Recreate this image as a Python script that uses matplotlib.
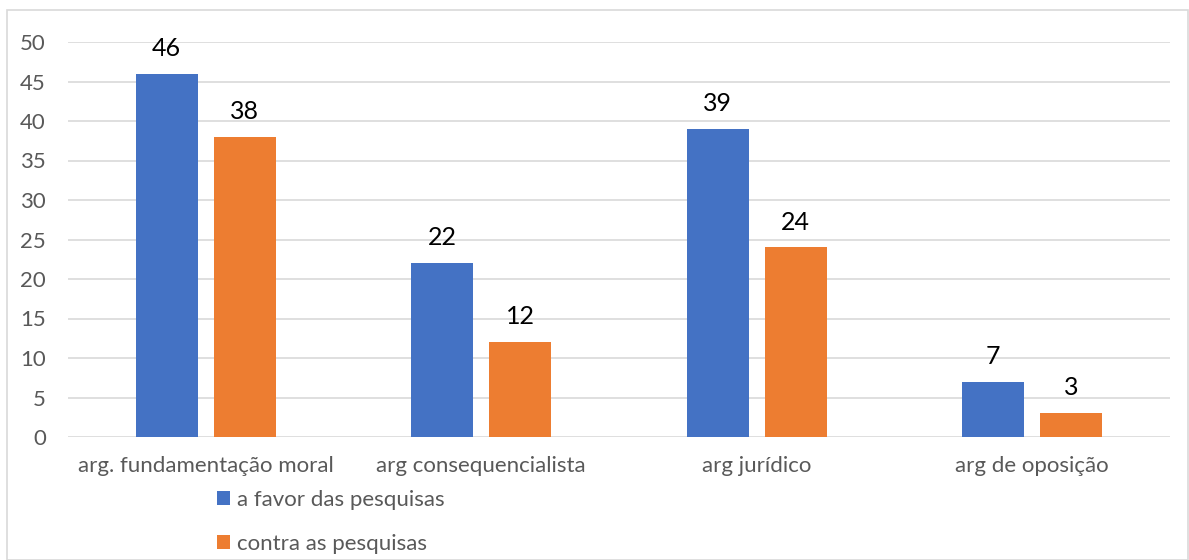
import numpy as np
import matplotlib.pyplot as plt
from matplotlib.patches import Rectangle

plt.rcParams['font.family'] = ['Lato', 'DejaVu Sans']

# dados do gráfico
categorias = ['arg. fundamentação moral', 'arg consequencialista', 'arg jurídico', 'arg de oposição']
a_favor = [46, 22, 39, 7]
contra = [38, 12, 24, 3]
series = ['a favor das pesquisas', 'contra as pesquisas']
cores = ['#4472C4', '#ED7D31']

fig = plt.figure(figsize=(11.89, 5.6), dpi=100)
ax = fig.add_axes([68 / 1189, 1 - 437 / 560, (1170 - 68) / 1189, (437 - 42) / 560])

# moldura cinza em volta do gráfico
fig.patches.append(Rectangle((7 / 1189, 0), 1 - 7 / 1189 - 0.001, 1 - 10 / 560,
                             transform=fig.transFigure, fill=False,
                             edgecolor='#D9D9D9', linewidth=1.2))

x = np.arange(len(categorias))
largura = 0.225
desloc = 0.1415
b1 = ax.bar(x - desloc, a_favor, largura, color=cores[0], label=series[0], zorder=3)
b2 = ax.bar(x + desloc, contra, largura, color=cores[1], label=series[1], zorder=3)

for barras in (b1, b2):
    ax.bar_label(barras, padding=10, fontsize=18, color='black')

ax.set_xlim(-0.5, 3.5)
ax.set_ylim(0, 50)
ax.set_yticks(np.arange(0, 51, 5))
ax.set_xticks(x)
ax.set_xticklabels(categorias)
ax.tick_params(axis='both', length=0, labelsize=16, colors='#595959')
ax.tick_params(axis='x', pad=14)
ax.tick_params(axis='y', pad=16)
ax.grid(axis='y', color='#D9D9D9', linewidth=1.2, zorder=0)
for s in ax.spines.values():
    s.set_visible(False)

leg = fig.legend(handles=[b1, b2], labels=series, loc='upper left',
                 bbox_to_anchor=(199 / 1189, 1 - 472 / 560), frameon=False,
                 fontsize=16, handlelength=0.6, handleheight=0.6,
                 handletextpad=0.3, labelspacing=1.1, borderpad=0.3)
for t in leg.get_texts():
    t.set_color('#595959')

fig.savefig('out.png', dpi=100)
